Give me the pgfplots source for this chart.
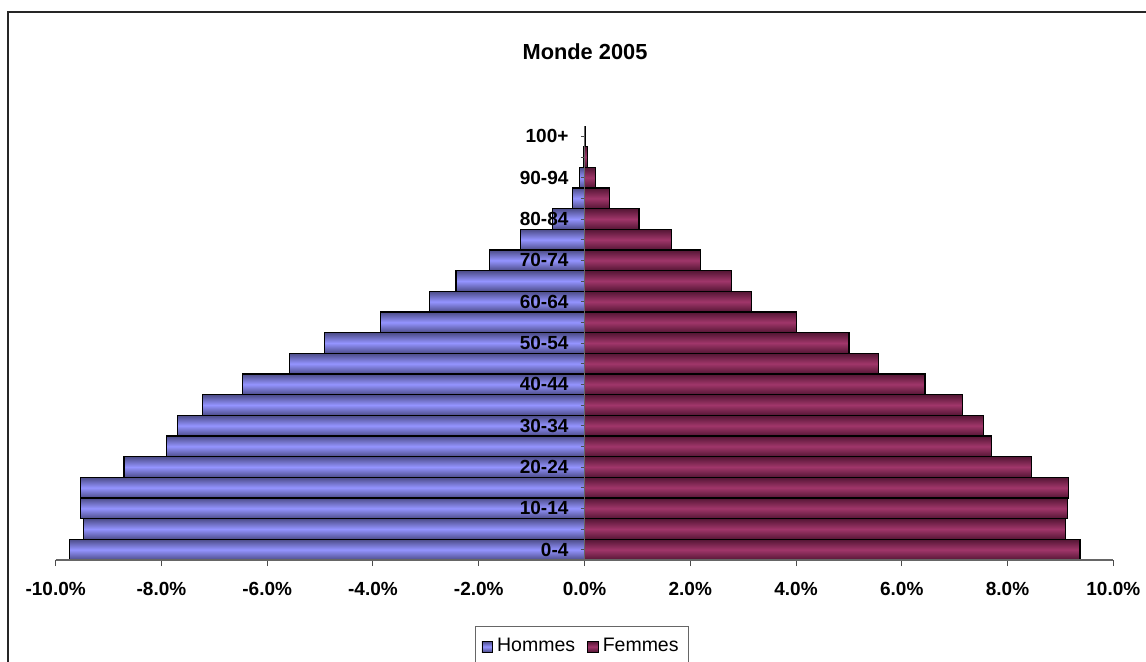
\documentclass[border=0pt]{standalone}
\usepackage{pgfplots}
\pgfplotsset{compat=1.18}
\usepackage{pgfplotstable}
\usepackage{fontspec}
\setmainfont{Liberation Sans}

\definecolor{hommesLight}{RGB}{148,148,255}
\definecolor{hommesDark}{RGB}{76,76,136}
\definecolor{femmesLight}{RGB}{160,54,106}
\definecolor{femmesDark}{RGB}{84,22,52}

% part of world population per age group, 2005 (percent)
\pgfplotstableread{
idx hommes femmes
0  -9.74 9.37
1  -9.48 9.10
2  -9.53 9.14
3  -9.53 9.16
4  -8.71 8.46
5  -7.91 7.70
6  -7.70 7.55
7  -7.22 7.15
8  -6.47 6.44
9  -5.58 5.56
10 -4.92 5.00
11 -3.86 4.01
12 -2.93 3.16
13 -2.43 2.78
14 -1.80 2.20
15 -1.21 1.64
16 -0.61 1.03
17 -0.23 0.47
18 -0.09 0.21
19 -0.02 0.06
20 -0.005 0.01
}\pyramide

\pgfplotsset{
    hommes/.style={draw=black, line width=0.6pt, top color=hommesDark, bottom color=hommesDark, middle color=hommesLight},
    femmes/.style={draw=black, line width=0.6pt, top color=femmesDark, bottom color=femmesDark, middle color=femmesLight},
}

\begin{document}
\begin{tikzpicture}
\path[use as bounding box] (0pt,0pt) rectangle (573pt,-330.5pt);
\draw[black!85, line width=0.7pt] (4pt,-340pt) -- (4pt,-6pt) -- (580pt,-6pt);
\node[font=\fontsize{10.9}{13}\selectfont\bfseries] at (292.5pt,-26pt) {Monde 2005};

\begin{axis}[
    at={(27.85pt,-280pt)}, anchor=south west,
    scale only axis, width=528.8pt, height=217pt,
    xbar, bar shift=0pt, bar width=1,
    xmin=-10, xmax=10, ymin=-0.5, ymax=20.5,
    axis x line=bottom, axis y line=center,
    axis line style={-, black!60, line width=0.6pt},
    hide obscured x ticks=false, hide obscured y ticks=false,
    axis on top=true,
    tick style={black!70, line width=0.5pt},
    tick align=outside,
    major tick length=3pt,
    ytick style={/pgfplots/major tick length=1.8pt},
    xtick={-10,-8,...,10},
    /pgf/number format/assume math mode=true,
    xticklabel={\pgfmathprintnumber[fixed,fixed zerofill,precision=1]{\tick}\%},
    xticklabel style={font=\fontsize{9.5}{11}\selectfont\bfseries},
    xticklabel shift=4.5pt,
    ytick={0,...,20},
    yticklabels={0-4,,10-14,,20-24,,30-34,,40-44,,50-54,,60-64,,70-74,,80-84,,90-94,,100+},
    yticklabel style={font=\fontsize{9.5}{11}\selectfont\bfseries},
    yticklabel shift=1.5pt,
    legend columns=2,
    legend style={at={(0.3965,-0.152)}, anchor=north west, draw=black!60,
        line width=0.5pt, font=\fontsize{9.75}{11}\selectfont, inner ysep=4pt,
        /tikz/every even column/.append style={column sep=4pt}},
    legend image code/.code={\path[#1, draw=black, line width=0.4pt] (0pt,-2.7pt) rectangle (5.4pt,2.7pt);},
]
% one plot per bar so that every bar gets its own shading
\pgfplotsinvokeforeach{0,...,20}{
    \addplot[hommes, forget plot, restrict y to domain=#1:#1]
        table[x=hommes, y=idx] {\pyramide};
    \addplot[femmes, forget plot, restrict y to domain=#1:#1]
        table[x=femmes, y=idx] {\pyramide};
}
\addlegendimage{hommes}
\addlegendentry{Hommes}
\addlegendimage{femmes}
\addlegendentry{Femmes}
\end{axis}
\end{tikzpicture}
\end{document}
